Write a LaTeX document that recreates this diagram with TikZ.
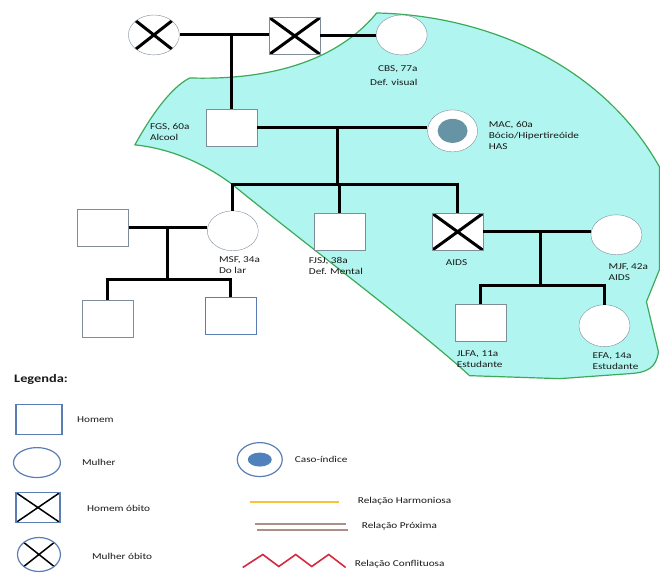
\documentclass[tikz,border=0pt]{standalone}
\usepackage{fontspec}
\setmainfont{Carlito}[FakeStretch=1.25]
\usepackage{xcolor}
\usetikzlibrary{positioning,shapes.geometric}

\definecolor{blobfill}{HTML}{B0F5EF}
\definecolor{blobline}{HTML}{3DAA5A}
\definecolor{shapeline}{HTML}{7F8D9B}
\definecolor{legline}{HTML}{5B7DB3}
\definecolor{idxfill}{HTML}{6794A4}
\definecolor{legidx}{HTML}{4F81BD}
\definecolor{harmline}{HTML}{F8C33A}
\definecolor{proxline}{HTML}{B08E88}
\definecolor{confline}{HTML}{D42A3E}

\begin{document}
\begin{tikzpicture}[x=1pt,y=-1pt,
	font=\fontsize{9}{11}\selectfont,text=black!90,
	man node/.style={draw=shapeline, rectangle, fill=white, inner sep=0pt, minimum width=51pt, minimum height=37pt},
	woman node/.style={draw=shapeline, ellipse, fill=white, inner sep=0pt, minimum width=51pt, minimum height=40pt},
	dead/.style={path picture={\draw[black, line width=#1] (path picture bounding box.north west) -- (path picture bounding box.south east) (path picture bounding box.south west) -- (path picture bounding box.north east);}},
	dead/.default=3pt,
	index/.style n args={3}{path picture={\fill[#1] (path picture bounding box.center) ellipse [x radius=#2, y radius=#3];}},
	tie/.style={line width=3pt},
	info/.style={inner sep=0pt, align=left, anchor=north west},
	key node/.style={draw=legline, line width=1.2pt, fill=white, inner sep=0pt},
	key text/.style={inner sep=0pt, anchor=west}]

	% area shared by the household
	\filldraw[fill=blobfill, draw=blobline, line width=1.2pt] (135,145) .. controls (150,118) and (170,88) .. (190,78)
		.. controls (250,80) and (330,70) .. (377,13) .. controls (480,15) and (600,60) .. (660,167)
		-- (660,270) -- (647,302) -- (659,352) .. controls (657,368) and (648,373) .. (630,374)
		-- (560,379) -- (470,376) .. controls (420,330) and (300,240) .. (233,185)
		.. controls (200,160) and (165,148) .. (135,145) -- cycle;

	\node[woman node,dead] (1) at (154,35) {};
	\node[man node,dead] (2) at (295,36) {};
	\node[woman node] (3) at (402,35) {};
	\node[man node] (4) at (232,128) {};
	\node[woman node,index={idxfill}{15pt}{12pt},minimum width=50pt,minimum height=42pt] (5) at (453,131) {};

	\node[woman node] (6) at (233,231) {};
	\node[man node] (7) at (340,232) {};
	\node[man node,dead] (8) at (458,232) {};
	\node[man node] (9) at (103,228) {};
	\node[woman node] (10) at (617,235) {};

	\node[man node] (11) at (108,319) {};
	\node[man node,draw=legline,line width=1pt] (12) at (231,316) {};
	\node[man node] (13) at (481,323) {};
	\node[woman node,minimum height=42pt] (14) at (605,326) {};

	\coordinate (s) at (338,185);
	\coordinate (t) at (168,280);
	\coordinate (u) at (541,286);

	\draw[tie] (1.east) -- (1.east -| 2.west);
	\draw[tie] (4.north |- 1.east) -- (4.north);
	\draw[tie] (2.east) -- (2.east -| 3.west);
	\draw[tie] (4.east) -- (4.east -| 5.west);
	\draw[tie] (s |- 4.east) -- (s);
	\draw[tie] (6.north) |- (s) -| (8.north);
	\draw[tie] (7.north |- s) -- (7.north);

	\draw[tie] (9.east) -- (9.east -| 6.west);
	\draw[tie] (t |- 9.east) -- (t);
	\draw[tie] (11.north) |- (t) -| (12.north);

	\draw[tie] (8.east) -- (8.east -| 10.west);
	\draw[tie] (u |- 8.east) -- (u);
	\draw[tie] (13.north) |- (u) -| (14.north);

	\node[info, anchor=north east, align=right] (l3) at (418,66) {CBS, 77a\\[3pt]Def. visual};
	\node[info] (l4) at (150,123) {FGS, 60a\\Alcool};
	\node[info] (l5) at (489,121) {MAC, 60a\\Bócio/Hipertireóide\\HAS};
	\node[info] (l6) at (219,257) {MSF, 34a\\Do lar};
	\node[info] (l7) at (309,257) {FJSJ, 38a\\Def. Mental};
	\node[info, anchor=north] (l8) at (457,260) {AIDS};
	\node[info] (l10) at (609,264) {MJF, 42a\\AIDS};
	\node[info] (l13) at (457,351) {JLFA, 11a\\Estudante};
	\node[info] (l14) at (593,353) {EFA, 14a\\Estudante};

	% legend
	\node[font=\fontsize{11.5}{13}\selectfont\bfseries, inner sep=0pt, anchor=north west] (leg) at (14,375) {Legenda:};
	\node[key node, rectangle, minimum width=46pt, minimum height=30pt] (k1) at (39,420) {};
	\node[key text] (t1) at (77,420) {Homem};
	\node[key node, ellipse, minimum width=47pt, minimum height=30pt] (k2) at (37,463) {};
	\node[key text] (t2) at (82,463) {Mulher};
	\node[key node, rectangle, dead=1.5pt, minimum width=44pt, minimum height=30pt] (k3) at (38,508) {};
	\node[key text] (t3) at (87,509) {Homem óbito};
	\node[key node, ellipse, dead=1.5pt, minimum width=43pt, minimum height=34pt] (k4) at (39,555) {};
	\node[key text] (t4) at (92,557) {Mulher óbito};
	\node[key node, ellipse, index={legidx}{12pt}{7pt}, minimum width=45pt, minimum height=34pt] (k5) at (260,460) {};
	\node[key text] (t5) at (295,460) {Caso-índice};

	\coordinate (h0) at (250,502);
	\coordinate (h1) at (339,502);
	\draw[harmline, line width=2pt] (h0) -- (h1);
	\node[key text] (t6) at (358,502) {Relação Harmoniosa};
	\coordinate (p0) at (255,524);
	\coordinate (p1) at (346,524);
	\draw[proxline, line width=2pt] (p0) -- (p1) ([xshift=2pt,yshift=-6pt]p0) -- ([xshift=2pt,yshift=-6pt]p1);
	\node[key text] (t7) at (362,527) {Relação Próxima};
	\coordinate (c0) at (243,568);
	\draw[confline, line width=1.6pt] (c0) -- ++(20,-13) -- ++(16,12) -- ++(17,-12) -- ++(16,12) -- ++(17,-12) -- ++(17,13);
	\node[key text] (t8) at (355,565) {Relação Conflituosa};

	\useasboundingbox (0,0) rectangle (660,570);
\end{tikzpicture}
\end{document}
